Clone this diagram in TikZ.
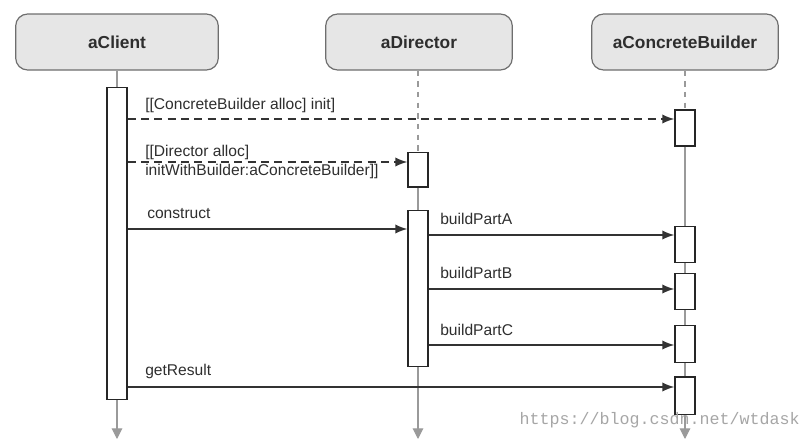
\documentclass[tikz,border=0pt]{standalone}
\usepackage{fontspec}
\setmainfont{Liberation Sans}
\newfontfamily\wmfont{Liberation Mono}
\usetikzlibrary{arrows.meta,calc}
\definecolor{txt}{HTML}{2E2E2E}
\definecolor{life}{HTML}{9A9A9A}
\definecolor{hdrfill}{HTML}{E6E6E6}
\definecolor{hdrline}{HTML}{6E6E6E}
\tikzset{
  hdr/.style={draw=hdrline, line width=0.9pt, fill=hdrfill, rounded corners=9pt,
    minimum height=42pt, text=txt, font=\bfseries\fontsize{13}{15}\selectfont, inner sep=0pt},
  actbox/.style={draw=black!85, line width=1pt, fill=white, minimum width=15pt, inner sep=0pt},
  msg/.style={draw=black!80, line width=1.1pt, -{Latex[length=9pt,width=7pt]}},
  dmsg/.style={msg, dash pattern=on 6pt off 4pt},
  lbl/.style={text=txt, font=\fontsize{11.7}{13}\selectfont, anchor=base west, inner sep=0pt},
  lifed/.style={draw=life, line width=0.8pt, dash pattern=on 4pt off 4pt},
  lifes/.style={draw=life, line width=0.8pt},
  lifea/.style={lifes, -{Triangle[length=8pt,width=8pt]}, life}
}
\begin{document}
\begin{tikzpicture}[x=0.75pt,y=-0.75pt]
\useasboundingbox (0,0) rectangle (808,439);
% headers
\node[hdr, minimum width=152pt] (h1) at (117,42) {aClient};
\node[hdr, minimum width=140pt] (h2) at (419,42) {aDirector};
\node[hdr, minimum width=140pt] (h3) at (685,42) {aConcreteBuilder};
% activation boxes
\node[actbox, minimum height=234pt] (c1) at (117,243.5) {};
\node[actbox, minimum height=26pt] (d1) at (418,169.5) {};
\node[actbox, minimum height=117pt] (d2) at (418,288.5) {};
\node[actbox, minimum height=27pt] (b1) at (685,128) {};
\node[actbox, minimum height=27pt] (b2) at (685,244.5) {};
\node[actbox, minimum height=27pt] (b3) at (685,291.5) {};
\node[actbox, minimum height=28pt] (b4) at (685,344) {};
\node[actbox, minimum height=28pt] (b5) at (685,395.5) {};
\coordinate (e1) at (117,439);
\coordinate (e2) at (418,439);
\coordinate (e3) at (685,439);
% lifelines
\path[lifes] (h1.south) -- (c1.north);
\path[lifed] (h2.south -| d1.north) -- (d1.north);
\path[lifes] (d1.south) -- (d2.north);
\path[lifed] (h3.south) -- (b1.north);
\path[lifes] (b1.south) -- (b2.north);
\path[lifes] (b2.south) -- (b3.north);
\path[lifes] (b3.south) -- (b4.north);
\path[lifes] (b4.south) -- (b5.north);
\draw[lifea] (c1.south) -- (e1);
\draw[lifea] (d2.south) -- (e2);
\draw[lifea] (b5.south) -- (e3);
% messages
\draw[dmsg] (c1.east |- 0,119) -- (b1.west |- 0,119);
\node[lbl] (l1) at (145,109) {[[ConcreteBuilder alloc] init]};
\draw[dmsg] (c1.east |- 0,162) -- (d1.west |- 0,162);
\node[lbl] (l2) at (145,156) {[[Director alloc]};
\node[lbl] (l3) at (145,175) {initWithBuilder:aConcreteBuilder]]};
\draw[msg] (c1.east |- 0,229) -- (d2.west |- 0,229);
\node[lbl] (l4) at (147,218) {construct};
\draw[msg] (d2.east |- 0,235) -- (b2.west |- 0,235);
\node[lbl] (l5) at (440,224) {buildPartA};
\draw[msg] (d2.east |- 0,289) -- (b3.west |- 0,289);
\node[lbl] (l6) at (440,278) {buildPartB};
\draw[msg] (d2.east |- 0,345) -- (b4.west |- 0,345);
\node[lbl] (l7) at (440,335) {buildPartC};
\draw[msg] (c1.east |- 0,387) -- (b5.west |- 0,387);
\node[lbl] (l8) at (145,375) {getResult};
% watermark
\node[text=black!35, font=\wmfont\fontsize{12.5}{14}\selectfont, anchor=base east, inner sep=0pt] (wm) at (800,424) {https://blog.csdn.net/wtdask};
\end{tikzpicture}
\end{document}
